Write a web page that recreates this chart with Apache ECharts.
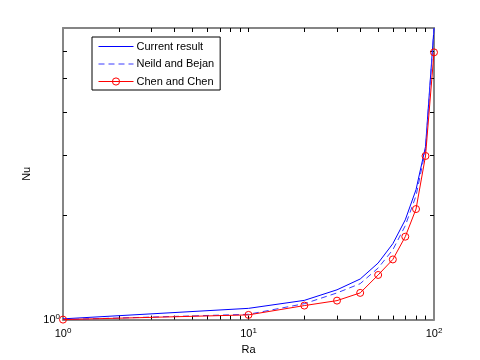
<!DOCTYPE html>
<html>
<head>
<meta charset="utf-8">
<script src="https://cdn.jsdelivr.net/npm/echarts@6/dist/echarts.min.js"></script>
<style>html,body{margin:0;padding:0;background:#fff}#c{width:480px;height:360px}</style>
</head>
<body>
<div id="c"></div>
<script>
const ra = [1, 10, 20, 30, 40, 50, 60, 70, 80, 90, 100];
const nuCurrent = [1.005, 1.078, 1.137, 1.22, 1.311, 1.459, 1.66, 1.946, 2.38, 3.17, 7.0];
const nuNeild = [1.0, 1.036, 1.112, 1.195, 1.271, 1.411, 1.594, 1.871, 2.285, 3.1, 6.95];
const nuChen = [1.0, 1.032, 1.098, 1.135, 1.195, 1.347, 1.494, 1.739, 2.091, 2.98, 5.95];
const seriesNames = ['Current result', 'Neild and Bejan', 'Chen and Chen'];
const xTicks = [2, 3, 4, 5, 6, 7, 8, 9, 10, 20, 30, 40, 50, 60, 70, 80, 90];
const xLabels = [1, 10, 100];
const yTicks = [2, 3, 4, 5, 6];
const yLabels = [1];
const xRange = [1, 100];
const yRange = [1, 7];

const font = '"Liberation Sans", Arial, sans-serif';
const pairs = (ys) => ra.map((x, i) => [x, ys[i]]);
const supFmt = (v) => '{b|10}{s|' + Math.round(Math.log10(v)) + '}';
const rich = {
  b: { fontSize: 11, fontFamily: font, color: '#000', lineHeight: 14 },
  s: { fontSize: 8, fontFamily: font, color: '#000', verticalAlign: 'top', lineHeight: 8 }
};
const axisLine = { show: true, lineStyle: { color: '#858585', width: 2 } };
function tick(vals) {
  return { show: true, inside: true, length: 4, customValues: vals, lineStyle: { color: '#000', width: 1 } };
}
const blue = '#0000ff', blue2 = '#3a3aff', red = '#ff0000';

const chart = echarts.init(document.getElementById('c'), null, { renderer: 'canvas' });
chart.setOption({
  backgroundColor: '#fff',
  animation: false,
  grid: { left: 63, right: 46, top: 28, bottom: 40, containLabel: false },
  legend: {
    orient: 'vertical',
    left: 92, top: 37,
    itemWidth: 35, itemHeight: 9, itemGap: 6.5,
    padding: [4, 6, 3, 6],
    borderColor: '#000', borderWidth: 1, backgroundColor: '#fff',
    textStyle: { fontFamily: font, fontSize: 11, color: '#000', padding: [0, 0, 0, -2] },
    data: [
      { name: seriesNames[0], itemStyle: { opacity: 0 }, lineStyle: { color: blue, width: 1, type: 'solid' } },
      { name: seriesNames[1], itemStyle: { opacity: 0 }, lineStyle: { color: blue2, width: 1, type: [6, 4] } },
      { name: seriesNames[2], itemStyle: { color: 'rgba(255,255,255,0)', borderColor: red, borderWidth: 1 }, lineStyle: { color: red, width: 1, type: 'solid' } }
    ]
  },
  xAxis: [
    {
      type: 'log', logBase: 10, min: xRange[0], max: xRange[1], position: 'bottom',
      name: 'Ra', nameLocation: 'middle', nameGap: 22,
      nameTextStyle: { fontFamily: font, fontSize: 11, color: '#000' },
      axisLine: axisLine, axisTick: tick(xTicks),
      axisLabel: { show: true, customValues: xLabels, margin: 7, formatter: supFmt, rich: rich },
      splitLine: { show: false }, minorTick: { show: false }
    },
    {
      type: 'log', logBase: 10, min: xRange[0], max: xRange[1], position: 'top',
      axisLine: axisLine, axisTick: tick(xTicks),
      axisLabel: { show: false }, splitLine: { show: false }
    }
  ],
  yAxis: [
    {
      type: 'log', logBase: 10, min: yRange[0], max: yRange[1], position: 'left',
      name: 'Nu', nameLocation: 'middle', nameGap: 24,
      nameTextStyle: { fontFamily: font, fontSize: 11, color: '#000' },
      axisLine: axisLine, axisTick: tick(yTicks),
      axisLabel: { show: true, customValues: yLabels, margin: 3, formatter: supFmt, rich: rich },
      splitLine: { show: false }
    },
    {
      type: 'log', logBase: 10, min: yRange[0], max: yRange[1], position: 'right',
      axisLine: axisLine, axisTick: tick(yTicks),
      axisLabel: { show: false }, splitLine: { show: false }
    }
  ],
  series: [
    {
      name: seriesNames[0], type: 'line', data: pairs(nuCurrent),
      symbol: 'none', lineStyle: { color: blue, width: 1 }, itemStyle: { color: blue }
    },
    {
      name: seriesNames[1], type: 'line', data: pairs(nuNeild),
      symbol: 'none', lineStyle: { color: blue2, width: 1, type: [6, 4] }, itemStyle: { color: blue2 }
    },
    {
      name: seriesNames[2], type: 'line', data: pairs(nuChen),
      symbol: 'circle', symbolSize: 7,
      lineStyle: { color: red, width: 1 },
      itemStyle: { color: 'rgba(255,255,255,0)', borderColor: red, borderWidth: 1 }
    }
  ]
});
</script>
</body>
</html>
